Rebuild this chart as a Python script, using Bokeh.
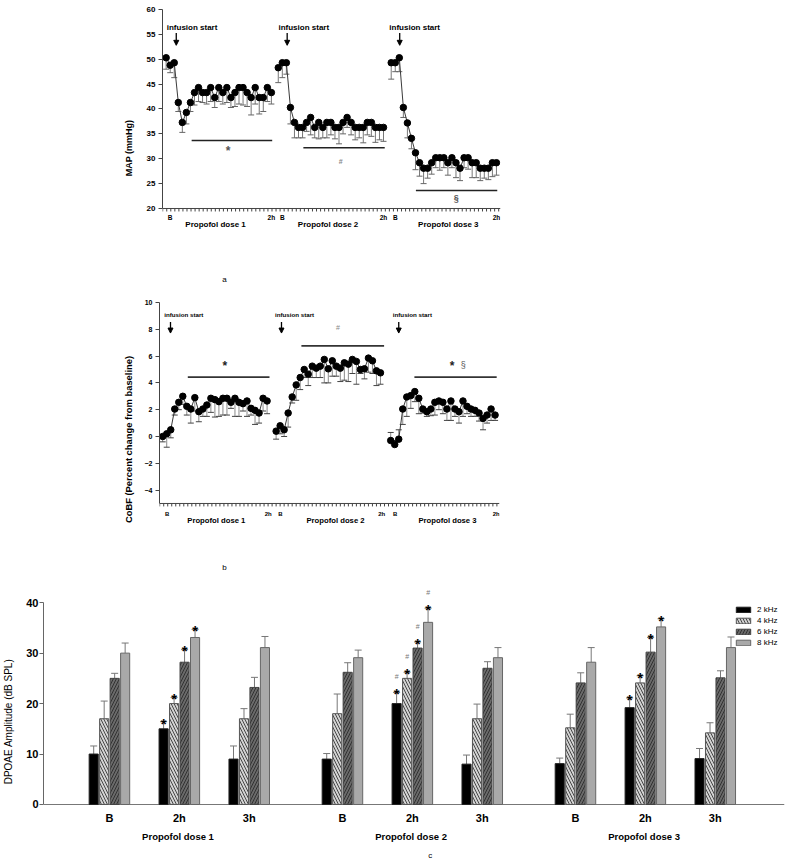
import numpy as np
from bokeh.plotting import figure
from bokeh.models import (ColumnDataSource, FixedTicker, Whisker, TeeHead, Arrow,
                          NormalHead, Legend, LegendItem, Range1d)
from bokeh.core.properties import value
from bokeh.embed import file_html
from bokeh.resources import INLINE

FONT = "Liberation Sans"

# ---------------- data: panel a (MAP, mmHg) ----------------
map_dose1 = [50.3, 48.8, 49.3, 41.3, 37.3, 39.3, 41.3, 43.3, 44.3, 43.3, 43.3, 44.3, 42.3, 44.3,
             43.3, 44.3, 42.3, 43.3, 44.3, 44.3, 43.3, 42.3, 44.3, 42.3, 42.3, 44.3, 43.3]
map_err1 = [2.3, 1.5, 3.0, 1.8, 2.0, 2.3, 1.8, 2.5, 2.8, 2.0, 2.3, 2.8, 2.0, 2.8,
            2.3, 3.0, 2.0, 2.8, 3.3, 3.5, 2.8, 3.5, 3.3, 3.3, 2.8, 2.8, 2.3]
map_dose2 = [48.3, 49.3, 49.3, 40.3, 37.3, 36.3, 36.3, 37.3, 38.3, 36.3, 37.3, 36.3, 37.3, 37.3,
             36.3, 36.3, 37.3, 38.3, 37.3, 36.3, 36.3, 36.3, 37.3, 37.3, 36.3, 36.3, 36.3]
map_err2 = [3.0, 3.0, 2.3, 3.3, 3.1, 2.1, 2.1, 1.8, 3.5, 2.1, 3.3, 2.1, 3.1, 2.5,
            2.3, 3.3, 2.3, 2.0, 2.5, 2.5, 2.1, 3.1, 2.5, 2.8, 3.0, 2.5, 2.8]
map_dose3 = [49.3, 49.3, 50.3, 40.3, 37.2, 34.1, 31.2, 29.2, 28.1, 28.1, 29.2, 30.2, 30.2, 30.2,
             29.2, 30.2, 29.2, 28.1, 30.2, 30.2, 29.2, 29.2, 28.1, 28.1, 28.1, 29.2, 29.2]
map_err3 = [3.3, 1.8, 2.8, 2.0, 3.0, 2.1, 3.4, 2.7, 3.1, 2.0, 2.3, 2.0, 2.5, 2.0,
            2.5, 2.0, 3.0, 2.5, 2.0, 2.3, 3.0, 3.0, 2.5, 2.0, 2.3, 2.8, 2.5]
map_yticks = [20, 25, 30, 35, 40, 45, 50, 55, 60]
map_marks = ["*", "#", "§"]

# ---------------- data: panel b (CoBF, % change) ----------------
cobf_dose1 = [0.0, 0.2, 0.5, 2.05, 2.55, 3.0, 2.25, 2.05, 2.9, 1.85, 2.05, 2.35, 2.85, 2.75,
              2.6, 2.85, 2.85, 2.55, 2.85, 2.55, 2.45, 2.65, 2.1, 1.95, 1.75, 2.85, 2.65]
cobf_err1 = [0.4, 1.0, 0.6, 0.45, 0.55, 0.6, 0.65, 1.05, 1.0, 0.75, 0.55, 0.85, 1.05, 1.3,
             1.1, 1.25, 1.25, 0.45, 1.35, 1.05, 0.55, 1.15, 0.5, 1.05, 0.75, 0.95, 0.95]
cobf_dose2 = [0.4, 0.8, 0.5, 1.75, 2.95, 3.85, 4.4, 5.0, 4.65, 5.25, 5.1, 5.25, 5.75, 5.05,
              5.65, 5.25, 5.1, 5.5, 5.4, 5.75, 5.6, 5.0, 5.05, 5.85, 5.65, 4.9, 4.75]
cobf_err2 = [0.6, 0.6, 0.5, 1.05, 0.45, 1.15, 0.9, 0.6, 0.85, 0.85, 0.7, 0.85, 1.75, 1.05,
             1.15, 0.75, 1.0, 1.3, 1.3, 1.05, 1.7, 0.3, 0.75, 1.05, 0.95, 1.1, 0.85]
cobf_dose3 = [-0.3, -0.6, -0.2, 2.05, 2.95, 3.05, 3.35, 2.85, 2.05, 1.85, 2.05, 2.55, 2.65, 2.55,
              2.05, 2.65, 2.05, 1.85, 2.65, 2.25, 2.05, 1.95, 1.75, 1.35, 1.6, 2.05, 1.6]
cobf_err3 = [0.6, 0.3, 0.7, 1.15, 1.45, 0.95, 0.75, 1.15, 0.3, 0.35, 0.5, 0.95, 0.65, 0.85,
             0.85, 1.45, 0.55, 0.85, 1.15, 0.55, 0.55, 0.45, 0.6, 0.85, 0.6, 0.85, 0.4]
cobf_yticks = [-4, -2, 0, 2, 4, 6, 8, 10]

dose_names = ["Propofol dose 1", "Propofol dose 2", "Propofol dose 3"]
time_labels = ["B", "2h"]
infusion_text = "infusion start"

# ---------------- data: panel c (DPOAE amplitude, dB SPL) ----------------
group_labels = ["B", "2h", "3h"]
dose_names_c = ["Propofol dose  1", "Propofol dose  2", "Propofol dose  3"]
freq_labels = ["2 kHz", "4 kHz", "6 kHz", "8 kHz"]
dpoae_2k = [10.0, 15.0, 9.0, 9.0, 20.0, 8.0, 8.1, 19.2, 9.1]
err_2k = [1.6, 1.4, 2.6, 1.1, 2.2, 1.8, 1.1, 1.9, 2.0]
dpoae_4k = [17.0, 20.0, 17.0, 18.0, 25.0, 17.0, 15.2, 24.1, 14.2]
err_4k = [3.5, 1.2, 2.0, 3.9, 1.2, 2.9, 2.7, 1.4, 2.0]
dpoae_6k = [25.0, 28.2, 23.2, 26.2, 31.0, 27.0, 24.1, 30.2, 25.1]
err_6k = [1.0, 2.5, 2.0, 1.9, 1.2, 1.3, 2.0, 2.9, 1.4]
dpoae_8k = [30.0, 33.1, 31.1, 29.1, 36.1, 29.1, 28.2, 35.2, 31.1]
err_8k = [2.0, 1.6, 2.2, 1.5, 2.8, 2.0, 2.9, 1.6, 2.1]
dpoae_yticks = [0, 10, 20, 30, 40]
star_groups = [1, 4, 7]   # "*"
hash_groups = [4]         # "#"


# ---------------- helpers ----------------
def base_fig(w, h, bl, br, bt, bb, xr, yr):
    p = figure(width=w, height=h, x_range=Range1d(*xr), y_range=Range1d(*yr),
               output_backend="svg", toolbar_location=None,
               min_border_left=bl, min_border_right=br, min_border_top=bt, min_border_bottom=bb)
    p.outline_line_color = None
    p.xgrid.visible = False
    p.ygrid.visible = False
    p.xaxis.visible = False
    return p


def style_yaxis(ax, ticks, bounds, size, color, lab, lab_size, lab_style, tick_out, standoff, lab_standoff):
    ax.ticker = FixedTicker(ticks=ticks)
    ax.bounds = bounds
    ax.axis_line_color = color
    ax.major_tick_line_color = color
    ax.minor_tick_line_color = None
    ax.major_tick_in = 0
    ax.major_tick_out = tick_out
    ax.major_label_text_font = FONT
    ax.major_label_text_font_style = "bold"
    ax.major_label_text_font_size = size
    ax.major_label_text_color = "black"
    ax.major_label_standoff = standoff
    ax.axis_label = lab
    ax.axis_label_text_font = FONT
    ax.axis_label_text_font_style = lab_style
    ax.axis_label_text_font_size = lab_size
    ax.axis_label_text_color = "black"
    ax.axis_label_standoff = lab_standoff


def ptext(p, x, y, text, size, bold=True, color="black", baseline="middle"):
    p.text(x=[x], y=[y], text=[text], text_font=value(FONT), text_font_size=size,
           text_font_style="bold" if bold else "normal", text_color=color,
           text_align="center", text_baseline=baseline)


def time_panel(p, series, errors, offsets, stem_color, cap_color):
    for k, (vals, errs) in enumerate(zip(series, errors)):
        xs = [offsets[k] + i for i in range(len(vals))]
        dn = [i for i, v in enumerate(vals) if v >= 0]
        up = [i for i, v in enumerate(vals) if v < 0]
        sdn = ColumnDataSource(dict(x=[xs[i] for i in dn], y=[vals[i] for i in dn],
                                    e=[vals[i] - errs[i] for i in dn]))
        p.add_layout(Whisker(source=sdn, base="x", upper="y", lower="e", upper_head=None,
                             lower_head=TeeHead(size=6, line_color=cap_color, line_width=1),
                             line_color=stem_color, line_width=1))
        if up:
            sup = ColumnDataSource(dict(x=[xs[i] for i in up], y=[vals[i] for i in up],
                                        e=[vals[i] + errs[i] for i in up]))
            p.add_layout(Whisker(source=sup, base="x", lower="y", upper="e", lower_head=None,
                                 upper_head=TeeHead(size=6, line_color=cap_color, line_width=1),
                                 line_color=stem_color, line_width=1))
        src = ColumnDataSource(dict(x=xs, y=vals))
        p.line("x", "y", source=src, line_color="#3a3a3a", line_width=1)
        p.scatter("x", "y", source=src, size=6.5, color="black")


def time_xaxis(p, xr, yaxis_at, tick_len, minor_start, color="#444"):
    p.segment(x0=[xr[0]], y0=[yaxis_at], x1=[xr[1]], y1=[yaxis_at], line_color=color, line_width=1)
    tk = list(np.arange(minor_start, xr[1], 1.0))
    p.segment(x0=tk, y0=[yaxis_at] * len(tk), x1=tk, y1=[yaxis_at - tick_len] * len(tk),
              line_color=color, line_width=1)


def arrow(p, x, y0, y1):
    p.add_layout(Arrow(end=NormalHead(size=5, fill_color="black", line_color="black", line_width=1),
                       x_start=x, y_start=y0, x_end=x, y_end=y1, line_color="black", line_width=1.3))


W = 785

# ---------------- panel a ----------------
a_off = [0, 27.7, 55.6]
a_xr = (-0.9, 82.6)
pa = base_fig(W, 286, 162, W - 162 - 338, 9, 0, a_xr, (4.32, 60))
style_yaxis(pa.yaxis[0], map_yticks, (20, 60), "8px", "#444", "MAP (mmHg)", "9px", "bold", 4, 3, 10)
time_xaxis(pa, a_xr, 20, 0.6, -0.85)
time_panel(pa, [map_dose1, map_dose2, map_dose3], [map_err1, map_err2, map_err3], a_off, "#777", "#666")

a_arrow = [2.5, 2.2, 2.1]
a_inf = [6.4, 6.3, 5.8]
a_line = [(6.3, 26.2, 33.67), (6.2, 26.3, 32.2), (6.1, 26.2, 23.62)]
a_mark = [(15.3, 31.5, "12px", "#555"), (15.4, 29.5, "7px", "#888"), (16.05, 22.2, "9px", "#555")]
a_dose_x = [12.2, 12.3, 14.1]
for k, o in enumerate(a_off):
    ptext(pa, o + a_inf[k], 56.44, infusion_text, "8px")
    arrow(pa, o + a_arrow[k], 55.3, 52.8)
    x0, x1, yl = a_line[k]
    pa.segment(x0=[o + x0], y0=[yl], x1=[o + x1], y1=[yl], line_color="#222", line_width=1.5)
    mx, my, ms, mc = a_mark[k]
    ptext(pa, o + mx, my, map_marks[k], ms, color=mc)
    ptext(pa, o + 1, 18.13, time_labels[0], "6.5px")
    ptext(pa, o + 26, 18.13, time_labels[1], "6.5px")
    ptext(pa, o + a_dose_x[k], 16.72, dose_names[k], "8px")
ptext(pa, 14.4, 5.73, "a", "8px", bold=False)

# ---------------- panel b ----------------
b_off = [0, 28.25, 56.8]
b_xr = (-0.8, 83.9)
pb = base_fig(W, 290, 159, W - 159 - 340, 16, 0, b_xr, (-10.45, 10))
style_yaxis(pb.yaxis[0], cobf_yticks, (-5, 10), "7px", "#444",
            "CoBF (Percent change from baseline)", "9.4px", "bold", 4, 3, 8)
time_xaxis(pb, b_xr, -5, 0.22, -0.75)
time_panel(pb, [cobf_dose1, cobf_dose2, cobf_dose3], [cobf_err1, cobf_err2, cobf_err3], b_off, "#8a8a8a", "#444")

b_arrow = [1.94, 1.34, 2.0]
b_inf = [5.25, 4.6, 5.4]
b_line = [(6.25, 26.6, 4.43), (6.3, 26.9, 6.76), (5.9, 26.4, 4.43)]
b_dose_x = [13.35, 14.8, 14.15]
for k, o in enumerate(b_off):
    ptext(pb, o + b_inf[k], 9.1, infusion_text, "6.2px")
    arrow(pb, o + b_arrow[k], 8.55, 7.72)
    x0, x1, yl = b_line[k]
    pb.segment(x0=[o + x0], y0=[yl], x1=[o + x1], y1=[yl], line_color="#333", line_width=1.8)
    ptext(pb, o + 1.1, -5.8, time_labels[0], "6px")
    ptext(pb, o + 26.3, -5.8, time_labels[1], "6px")
    ptext(pb, o + b_dose_x[k], -6.25, dose_names[k], "7.7px")
ptext(pb, b_off[0] + 15.5, 5.27, "*", "12px", color="#222")
ptext(pb, b_off[1] + 15.4, 8.1, "#", "7px", bold=False, color="#888")
ptext(pb, b_off[2] + 15.3, 5.27, "*", "12px", color="#222")
ptext(pb, b_off[2] + 18.1, 5.3, "§", "9px", bold=False, color="#555")
ptext(pb, 15.4, -9.75, "b", "8px", bold=False)

# ---------------- panel c ----------------
gap = 1.0 / 3.0
gpos = [d * (3 + gap) + t for d in range(3) for t in range(3)]
c_xr = (-0.943, 9.657)
pc = base_fig(W, 284, 42, W - 42 - 742, 6, 0, c_xr, (-11.1, 44))
style_yaxis(pc.yaxis[0], dpoae_yticks, (0, 40), "11px", "#666", "DPOAE Amplitude (dB SPL)",
            "10px", "normal", 4, 1, 9)
pc.segment(x0=[c_xr[0]], y0=[0], x1=[c_xr[1]], y1=[0], line_color="#777", line_width=1.2)

series = [(dpoae_2k, err_2k), (dpoae_4k, err_4k), (dpoae_6k, err_6k), (dpoae_8k, err_8k)]
styles = [dict(fill_color="black", line_color="#222", hatch_pattern=None),
          dict(fill_color="#d2d2d2", line_color="#555", hatch_pattern="\\"),
          dict(fill_color="#6a6a6a", line_color="#444", hatch_pattern="/"),
          dict(fill_color="#a9a9a9", line_color="#666", hatch_pattern=None)]
bar_off = [-0.225, -0.075, 0.075, 0.225]
items = []
for i, ((vals, errs), st) in enumerate(zip(series, styles)):
    xs = [g + bar_off[i] for g in gpos]
    src = ColumnDataSource(dict(x=xs, top=vals, up=[v + e for v, e in zip(vals, errs)]))
    kw = dict(fill_color=st["fill_color"], line_color=st["line_color"], line_width=1)
    if st["hatch_pattern"]:
        kw.update(hatch_pattern=st["hatch_pattern"], hatch_color="#222", hatch_scale=6,
                  hatch_weight=0.8)
    r = pc.vbar(x="x", top="top", bottom=0, width=0.13, source=src, **kw)
    pc.add_layout(Whisker(source=src, base="x", lower="top", upper="up", lower_head=None,
                          upper_head=TeeHead(size=7, line_color="#777", line_width=1),
                          line_color="#777", line_width=1))
    items.append(LegendItem(label=freq_labels[i], renderers=[r]))
    for g in star_groups:
        ptext(pc, xs[g], vals[g] + errs[g] - 0.25, "*", "15px", baseline="alphabetic")
    for g in hash_groups:
        ptext(pc, xs[g], vals[g] + errs[g] + 3.1, "#", "7px", bold=False, color="#777",
              baseline="alphabetic")

legend = Legend(items=items, location=(691, 213), glyph_width=18, glyph_height=7,
                label_height=7, spacing=2, padding=2, margin=0, border_line_color=None,
                background_fill_alpha=0, label_text_font=FONT, label_text_font_size="8px",
                label_text_color="black", label_standoff=5)
pc.add_layout(legend)
for i in range(9):
    ptext(pc, gpos[i], -2.64, group_labels[i % 3], "11px")
for d in range(3):
    ptext(pc, gpos[d * 3 + 1], -6.34, dose_names_c[d], "9.5px")
ptext(pc, 4.59, -10.1, "c", "8px", bold=False)

open("out.html", "w").write(file_html([pa, pb, pc], INLINE))
